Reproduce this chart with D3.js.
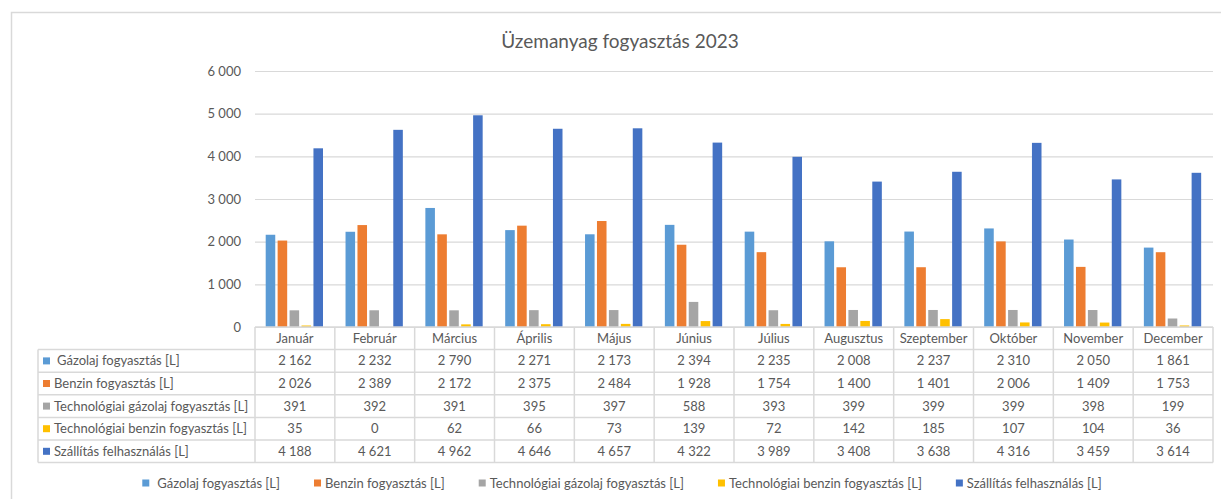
<!DOCTYPE html>
<html>
<head>
<meta charset="utf-8">
<script src="https://cdn.jsdelivr.net/npm/d3@7"></script>
<style>
  body { margin: 0; background: #fff; }
  text { font-family: Lato, "Liberation Sans", sans-serif; fill: #595959; }
</style>
</head>
<body>
<svg id="chart" width="1221" height="499"></svg>
<script>
// data
var months = ["Január", "Február", "Március", "Április", "Május", "Június",
              "Július", "Augusztus", "Szeptember", "Október", "November", "December"];
var seriesNames = ["Gázolaj fogyasztás [L]", "Benzin fogyasztás [L]",
                   "Technológiai gázolaj fogyasztás [L]", "Technológiai benzin fogyasztás [L]",
                   "Szállítás felhasználás [L]"];
var gazolaj     = [2162, 2232, 2790, 2271, 2173, 2394, 2235, 2008, 2237, 2310, 2050, 1861];
var benzin      = [2026, 2389, 2172, 2375, 2484, 1928, 1754, 1400, 1401, 2006, 1409, 1753];
var techGazolaj = [391, 392, 391, 395, 397, 588, 393, 399, 399, 399, 398, 199];
var techBenzin  = [35, 0, 62, 66, 73, 139, 72, 142, 185, 107, 104, 36];
var szallitas   = [4188, 4621, 4962, 4646, 4657, 4322, 3989, 3408, 3638, 4316, 3459, 3614];
var yTicks = [0, 1000, 2000, 3000, 4000, 5000, 6000];
var title = "Üzemanyag fogyasztás 2023";

var seriesValues = [gazolaj, benzin, techGazolaj, techBenzin, szallitas];
var colors = ["#5B9BD5", "#ED7D31", "#A5A5A5", "#FFC000", "#4472C4"];
var gridColor = "#d9d9d9";

var svg = d3.select("#chart");

var fmt = d3.formatLocale({decimal: ",", thousands: " ", grouping: [3], currency: ["", ""]}).format(",d");

// outer frame (left + top edge visible)
svg.append("path")
    .attr("d", "M11.5,499 L11.5,12.5 L1221,12.5")
    .attr("fill", "none")
    .attr("stroke", gridColor)
    .attr("stroke-width", 1.5);

// title
svg.append("text")
    .attr("x", 620)
    .attr("y", 48)
    .attr("text-anchor", "middle")
    .style("font-size", "19px")
    .text(title);

// scales
var x = d3.scaleBand().domain(months).range([255, 1213]);
var xs = d3.scaleBand().domain(d3.range(5)).range([10.7, 68]).paddingInner(0.2);
var y = d3.scaleLinear().domain([0, 6000]).range([327, 71]);

// y axis + gridlines
var yAxis = svg.append("g")
    .attr("transform", "translate(255,0)")
    .call(d3.axisLeft(y).tickValues(yTicks).tickSize(-958).tickPadding(14).tickFormat(fmt));
yAxis.select(".domain").remove();
yAxis.selectAll(".tick line").attr("stroke", gridColor).attr("stroke-width", 1.2);
yAxis.selectAll(".tick text").style("font-size", "13px").style("font-family", null).attr("fill", "#595959");

// bars
var groups = svg.append("g").selectAll("g")
    .data(months)
    .join("g")
    .attr("transform", function (d) { return "translate(" + x(d) + ",0)"; });

groups.selectAll("rect")
    .data(function (d, i) { return seriesValues.map(function (s, k) { return {k: k, v: s[i]}; }); })
    .join("rect")
    .attr("x", function (d) { return xs(d.k); })
    .attr("width", xs.bandwidth())
    .attr("y", function (d) { return y(d.v); })
    .attr("height", function (d) { return y(0) - y(d.v); })
    .attr("fill", function (d) { return colors[d.k]; });

// data table
var rowH = 22.6;
var tableTop = y(0);
var tableLeft = 38;
var tableRight = x.range()[1];
var nRows = seriesNames.length + 1;
var table = svg.append("g");

// horizontal lines
table.append("line")
    .attr("x1", x.range()[0]).attr("x2", tableRight)
    .attr("y1", tableTop).attr("y2", tableTop);
for (var r = 1; r <= nRows; r++) {
    table.append("line")
        .attr("x1", tableLeft).attr("x2", tableRight)
        .attr("y1", tableTop + r * rowH).attr("y2", tableTop + r * rowH);
}
// vertical lines
table.append("line")
    .attr("x1", tableLeft).attr("x2", tableLeft)
    .attr("y1", tableTop + rowH).attr("y2", tableTop + nRows * rowH);
months.forEach(function (m) {
    table.append("line")
        .attr("x1", x(m)).attr("x2", x(m))
        .attr("y1", tableTop).attr("y2", tableTop + nRows * rowH);
});
table.append("line")
    .attr("x1", tableRight).attr("x2", tableRight)
    .attr("y1", tableTop).attr("y2", tableTop + nRows * rowH);
table.selectAll("line").attr("stroke", gridColor).attr("stroke-width", 1.5);

// header
table.selectAll("text.month")
    .data(months)
    .join("text")
    .attr("class", "month")
    .attr("x", function (d) { return x(d) + x.bandwidth() / 2; })
    .attr("y", tableTop + rowH / 2)
    .attr("dy", "0.35em")
    .attr("text-anchor", "middle")
    .style("font-size", "13px")
    .text(function (d) { return d; });

// rows
seriesNames.forEach(function (name, k) {
    var cy = tableTop + (k + 1) * rowH + rowH / 2;
    table.append("rect")
        .attr("x", 43).attr("y", cy - 3.5)
        .attr("width", 7).attr("height", 7)
        .attr("fill", colors[k]);
    table.append("text")
        .attr("x", k === 0 ? 57 : 54)
        .attr("y", cy)
        .attr("dy", "0.35em")
        .style("font-size", "13px")
        .text(name);
    table.selectAll("text.v" + k)
        .data(seriesValues[k])
        .join("text")
        .attr("class", "v" + k)
        .attr("x", function (d, i) { return x(months[i]) + x.bandwidth() / 2; })
        .attr("y", cy)
        .attr("dy", "0.35em")
        .attr("text-anchor", "middle")
        .style("font-size", "13px")
        .text(function (d) { return fmt(d); });
});

// legend
var legend = svg.append("g");
var items = legend.selectAll("g")
    .data(seriesNames)
    .join("g");
items.append("rect")
    .attr("width", 7).attr("height", 7)
    .attr("y", -3.5)
    .attr("fill", function (d, k) { return colors[k]; });
items.append("text")
    .attr("x", function (d, k) { return k === 0 ? 15 : 11; })
    .attr("dy", "0.35em")
    .style("font-size", "13px")
    .text(function (d) { return d; });

var pos = 0;
var offsets = [];
items.each(function (d, k) {
    var w = d3.select(this).select("text").node().getComputedTextLength() + (k === 0 ? 15 : 11);
    offsets.push(pos);
    pos += w + 34;
});
var totalW = pos - 34;
var startX = 622 - totalW / 2;
items.attr("transform", function (d, k) { return "translate(" + (startX + offsets[k]) + ",483)"; });
</script>
</body>
</html>
